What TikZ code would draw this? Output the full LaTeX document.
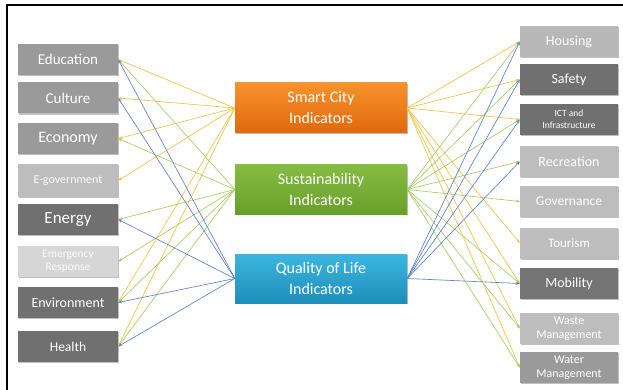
\documentclass[tikz,border=0pt]{standalone}
\usepackage{fontspec}
\setmainfont{Carlito}
\usetikzlibrary{shadows,arrows.meta}
\definecolor{gMid}{HTML}{9A9A9A}
\definecolor{gDark}{HTML}{707070}
\definecolor{gLight}{HTML}{BDBDBD}
\definecolor{gPale}{HTML}{D6D6D6}
\definecolor{lnY}{HTML}{F6C143}
\definecolor{lnG}{HTML}{A3CF62}
\definecolor{lnB}{HTML}{5B83CC}
\definecolor{orTop}{HTML}{F7922C}
\definecolor{orBot}{HTML}{E0690C}
\definecolor{grTop}{HTML}{86BC42}
\definecolor{grBot}{HTML}{6A9E2C}
\definecolor{blTop}{HTML}{3CB6E0}
\definecolor{blBot}{HTML}{1E8EBA}
\begin{document}
\begin{tikzpicture}[x=1pt,y=-1pt,
  sidebox/.style={minimum height=31pt, text=white, align=center, inner sep=0pt,
    drop shadow={shadow xshift=1.2pt, shadow yshift=-1.2pt, opacity=0.25, fill=black}},
  lbox/.style={sidebox, minimum width=100pt},
  rbox/.style={sidebox, minimum width=98pt},
  cbox/.style={minimum width=172pt, minimum height=50pt, text=white, align=center,
    inner sep=0pt, font=\fontsize{16}{21}\selectfont,
    drop shadow={shadow xshift=1.2pt, shadow yshift=-1.2pt, opacity=0.25, fill=black}},
  link/.style={line width=0.65pt, -{Stealth[length=4pt,width=3pt]}},
  ly/.style={link, draw=lnY},
  lg/.style={link, draw=lnG},
  lb/.style={link, draw=lnB}]
\useasboundingbox (0,0) rectangle (623,390);
\fill[white] (0,0) rectangle (623,390);
\draw[line width=1.5pt] (7,391) -- (7,5) -- (624,5);

% left column
\node[lbox, fill=gMid, font=\fontsize{15}{18}\selectfont] (edu) at (68,59.5) {Education};
\node[lbox, fill=gMid, font=\fontsize{15}{18}\selectfont] (cul) at (68,98) {Culture};
\node[lbox, fill=gMid, font=\fontsize{16}{18}\selectfont] (eco) at (68,138.5) {Economy};
\node[lbox, fill=gLight, text=white!92!gLight, font=\fontsize{12}{14}\selectfont, minimum height=33pt] (egov) at (68,180.5) {E-government};
\node[lbox, fill=gDark, font=\fontsize{17}{18}\selectfont] (ene) at (68,219.5) {Energy};
\node[lbox, fill=gPale, text=white!90!gPale, font=\fontsize{11.5}{13}\selectfont] (emr) at (68,261.5) {Emergency\\Response};
\node[lbox, fill=gDark, font=\fontsize{14}{18}\selectfont] (env) at (68,302.5) {Environment};
\node[lbox, fill=gDark, font=\fontsize{13.5}{18}\selectfont] (hea) at (68,346.5) {Health};

% centre column
\node[cbox, top color=orTop, bottom color=orBot] (sc) at (321,108) {Smart City\\Indicators};
\node[cbox, top color=grTop, bottom color=grBot, minimum height=49pt] (su) at (321,189.5) {Sustainability\\Indicators};
\node[cbox, top color=blTop, bottom color=blBot, minimum height=49pt] (ql) at (321,278.5) {Quality of Life\\Indicators};

% right column
\node[rbox, fill=gLight!85!gMid, font=\fontsize{14}{18}\selectfont] (hou) at (569,41.5) {Housing};
\node[rbox, fill=gDark, font=\fontsize{14}{18}\selectfont] (saf) at (569,79.5) {Safety};
\node[rbox, fill=gDark, font=\fontsize{9.5}{12}\selectfont] (ict) at (569,119.5) {ICT and\\Infrastructure};
\node[rbox, fill=gLight, font=\fontsize{14}{18}\selectfont] (rec) at (569,161.5) {Recreation};
\node[rbox, fill=gLight, font=\fontsize{13.5}{18}\selectfont] (gov) at (569,201.5) {Governance};
\node[rbox, fill=gLight, font=\fontsize{13}{18}\selectfont] (tou) at (569,243) {Tourism};
\node[rbox, fill=gDark!90!gMid, font=\fontsize{14}{18}\selectfont] (mob) at (569,283.5) {Mobility};
\node[rbox, fill=gLight, font=\fontsize{12}{14}\selectfont] (was) at (569,328.5) {Waste\\Management};
\node[rbox, fill=gMid, font=\fontsize{12}{14}\selectfont] (wat) at (569,367.5) {Water\\Management};

% links to the left column
\foreach \t in {edu,cul,eco,egov,env,hea} \draw[ly] (sc.west) -- (\t.east);
\foreach \t in {edu,eco,ene,emr,env,hea} \draw[lg] (su.west) -- (\t.east);
\foreach \t in {edu,cul,ene,env,hea} \draw[lb] (ql.west) -- (\t.east);

% links to the right column
\foreach \t in {hou,saf,ict,tou,mob,was,wat} \draw[ly] (sc.east) -- (\t.west);
\foreach \t in {hou,saf,ict,rec,gov,mob,was,wat} \draw[lg] (su.east) -- (\t.west);
\foreach \t in {hou,saf,ict,rec,mob} \draw[lb] (ql.east) -- (\t.west);
\end{tikzpicture}
\end{document}
